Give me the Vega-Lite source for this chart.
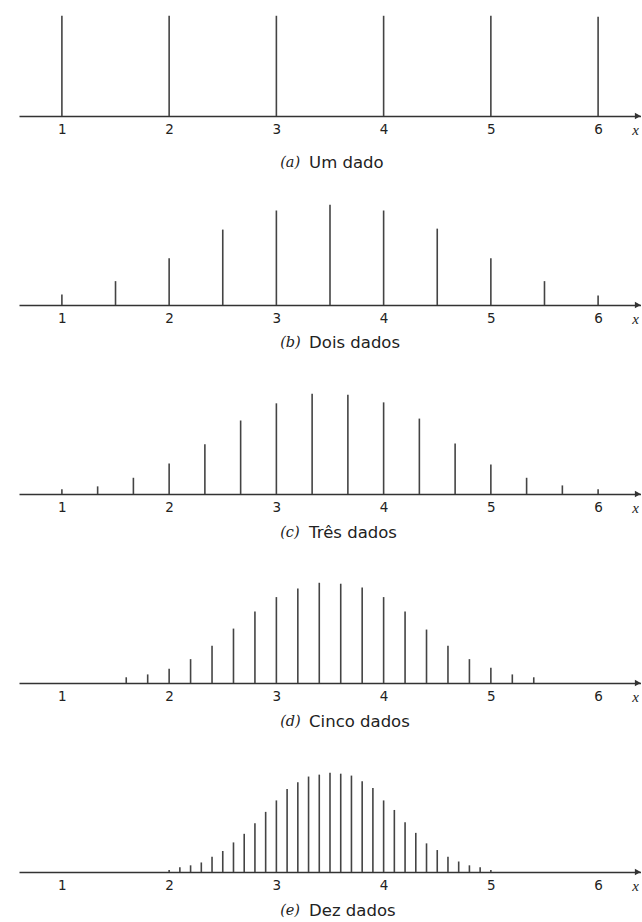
{
  "$schema": "https://vega.github.io/schema/vega-lite/v6.json",
  "background": "white",
  "padding": {"top": 11, "left": 19, "right": 0, "bottom": 0},
  "config": {
    "view": {"stroke": null},
    "axisX": {
      "domainColor": "#333333",
      "domainWidth": 1.5,
      "ticks": false,
      "grid": false,
      "labelFont": "DejaVu Sans",
      "labelFontSize": 13.5,
      "labelColor": "#222222",
      "labelBaseline": "middle",
      "labelPadding": 13,
      "labelOverlap": false,
      "labelFlush": false
    }
  },
  "datasets": {
    "medias": [
      {"painel": "a", "x": 1, "h": 105}, {"painel": "a", "x": 2, "h": 105}, {"painel": "a", "x": 3, "h": 105},
      {"painel": "a", "x": 4, "h": 105}, {"painel": "a", "x": 5, "h": 105}, {"painel": "a", "x": 6, "h": 104},

      {"painel": "b", "x": 1, "h": 11}, {"painel": "b", "x": 1.5, "h": 25}, {"painel": "b", "x": 2, "h": 49},
      {"painel": "b", "x": 2.5, "h": 79}, {"painel": "b", "x": 3, "h": 99}, {"painel": "b", "x": 3.5, "h": 105},
      {"painel": "b", "x": 4, "h": 99}, {"painel": "b", "x": 4.5, "h": 80}, {"painel": "b", "x": 5, "h": 49},
      {"painel": "b", "x": 5.5, "h": 25}, {"painel": "b", "x": 6, "h": 10},

      {"painel": "c", "x": 1, "h": 5}, {"painel": "c", "x": 1.3333, "h": 8}, {"painel": "c", "x": 1.6667, "h": 17},
      {"painel": "c", "x": 2, "h": 32}, {"painel": "c", "x": 2.3333, "h": 52}, {"painel": "c", "x": 2.6667, "h": 77},
      {"painel": "c", "x": 3, "h": 95}, {"painel": "c", "x": 3.3333, "h": 105}, {"painel": "c", "x": 3.6667, "h": 104},
      {"painel": "c", "x": 4, "h": 96}, {"painel": "c", "x": 4.3333, "h": 79}, {"painel": "c", "x": 4.6667, "h": 53},
      {"painel": "c", "x": 5, "h": 31}, {"painel": "c", "x": 5.3333, "h": 17}, {"painel": "c", "x": 5.6667, "h": 9},
      {"painel": "c", "x": 6, "h": 5},

      {"painel": "d", "x": 1.6, "h": 6}, {"painel": "d", "x": 1.8, "h": 9}, {"painel": "d", "x": 2.0, "h": 15},
      {"painel": "d", "x": 2.2, "h": 25}, {"painel": "d", "x": 2.4, "h": 39}, {"painel": "d", "x": 2.6, "h": 57},
      {"painel": "d", "x": 2.8, "h": 75}, {"painel": "d", "x": 3.0, "h": 90}, {"painel": "d", "x": 3.2, "h": 99},
      {"painel": "d", "x": 3.4, "h": 105}, {"painel": "d", "x": 3.6, "h": 104}, {"painel": "d", "x": 3.8, "h": 100},
      {"painel": "d", "x": 4.0, "h": 90}, {"painel": "d", "x": 4.2, "h": 75}, {"painel": "d", "x": 4.4, "h": 56},
      {"painel": "d", "x": 4.6, "h": 39}, {"painel": "d", "x": 4.8, "h": 25}, {"painel": "d", "x": 5.0, "h": 16},
      {"painel": "d", "x": 5.2, "h": 9}, {"painel": "d", "x": 5.4, "h": 6},

      {"painel": "e", "x": 2.0, "h": 2}, {"painel": "e", "x": 2.1, "h": 5}, {"painel": "e", "x": 2.2, "h": 7},
      {"painel": "e", "x": 2.3, "h": 10}, {"painel": "e", "x": 2.4, "h": 16}, {"painel": "e", "x": 2.5, "h": 22},
      {"painel": "e", "x": 2.6, "h": 31}, {"painel": "e", "x": 2.7, "h": 40}, {"painel": "e", "x": 2.8, "h": 51},
      {"painel": "e", "x": 2.9, "h": 63}, {"painel": "e", "x": 3.0, "h": 75}, {"painel": "e", "x": 3.1, "h": 87},
      {"painel": "e", "x": 3.2, "h": 94}, {"painel": "e", "x": 3.3, "h": 100}, {"painel": "e", "x": 3.4, "h": 102},
      {"painel": "e", "x": 3.5, "h": 104}, {"painel": "e", "x": 3.6, "h": 103}, {"painel": "e", "x": 3.7, "h": 101},
      {"painel": "e", "x": 3.8, "h": 95}, {"painel": "e", "x": 3.9, "h": 88}, {"painel": "e", "x": 4.0, "h": 75},
      {"painel": "e", "x": 4.1, "h": 65}, {"painel": "e", "x": 4.2, "h": 52}, {"painel": "e", "x": 4.3, "h": 41},
      {"painel": "e", "x": 4.4, "h": 30}, {"painel": "e", "x": 4.5, "h": 23}, {"painel": "e", "x": 4.6, "h": 16},
      {"painel": "e", "x": 4.7, "h": 11}, {"painel": "e", "x": 4.8, "h": 7}, {"painel": "e", "x": 4.9, "h": 5},
      {"painel": "e", "x": 5.0, "h": 2}
    ],
    "legendas": [
      {"painel": "a", "rotulo": "(a)", "nome": "Um dado"},
      {"painel": "b", "rotulo": "(b)", "nome": "Dois dados"},
      {"painel": "c", "rotulo": "(c)", "nome": "Três dados"},
      {"painel": "d", "rotulo": "(d)", "nome": "Cinco dados"},
      {"painel": "e", "rotulo": "(e)", "nome": "Dez dados"}
    ]
  },
  "bounds": "flush",
  "spacing": 84,
  "vconcat": [
    {
      "width": 622, "height": 105,
      "layer": [
        {"data": {"name": "medias"}, "transform": [{"filter": "datum.painel === 'a'"}],
         "mark": {"type": "rule", "strokeWidth": 1.6, "color": "#444444"},
         "encoding": {"x": {"field": "x", "type": "quantitative", "scale": {"domain": [0.6, 6.4], "nice": false, "zero": false}, "axis": {"title": null, "values": [1, 2, 3, 4, 5, 6], "format": "d"}},
                      "y": {"field": "h", "type": "quantitative", "scale": {"domain": [0, 105]}, "axis": null},
                      "y2": {"datum": 0}}},
        {"data": {"name": "legendas"}, "transform": [{"filter": "datum.painel === 'a'"}],
         "mark": {"type": "point", "shape": "triangle-right", "filled": true, "size": 45, "color": "#333333", "opacity": 1},
         "encoding": {"x": {"datum": 6.37, "type": "quantitative", "axis": {"title": null, "values": [1, 2, 3, 4, 5, 6], "format": "d"}}, "y": {"datum": 0, "type": "quantitative", "axis": null}}},
        {"data": {"name": "legendas"}, "transform": [{"filter": "datum.painel === 'a'"}],
         "mark": {"type": "text", "text": "x", "font": "Liberation Serif", "fontStyle": "italic", "fontSize": 15, "color": "#222222", "baseline": "middle", "align": "center", "dy": 14},
         "encoding": {"x": {"datum": 6.35, "type": "quantitative", "axis": {"title": null, "values": [1, 2, 3, 4, 5, 6], "format": "d"}}, "y": {"datum": 0, "type": "quantitative", "axis": null}}},
        {"data": {"name": "legendas"}, "transform": [{"filter": "datum.painel === 'a'"}],
         "mark": {"type": "text", "font": "DejaVu Serif", "fontStyle": "italic", "fontSize": 14.5, "color": "#222222", "baseline": "middle", "align": "left", "dy": 47},
         "encoding": {"x": {"datum": 3.035, "type": "quantitative", "axis": {"title": null, "values": [1, 2, 3, 4, 5, 6], "format": "d"}}, "y": {"datum": 0, "type": "quantitative", "axis": null}, "text": {"field": "rotulo"}}},
        {"data": {"name": "legendas"}, "transform": [{"filter": "datum.painel === 'a'"}],
         "mark": {"type": "text", "font": "DejaVu Sans", "fontSize": 16.5, "color": "#222222", "baseline": "middle", "align": "left", "dy": 47},
         "encoding": {"x": {"datum": 3.305, "type": "quantitative", "axis": {"title": null, "values": [1, 2, 3, 4, 5, 6], "format": "d"}}, "y": {"datum": 0, "type": "quantitative", "axis": null}, "text": {"field": "nome"}}}
      ]
    },
    {
      "width": 622, "height": 105,
      "layer": [
        {"data": {"name": "medias"}, "transform": [{"filter": "datum.painel === 'b'"}],
         "mark": {"type": "rule", "strokeWidth": 1.6, "color": "#444444"},
         "encoding": {"x": {"field": "x", "type": "quantitative", "scale": {"domain": [0.6, 6.4], "nice": false, "zero": false}, "axis": {"title": null, "values": [1, 2, 3, 4, 5, 6], "format": "d"}},
                      "y": {"field": "h", "type": "quantitative", "scale": {"domain": [0, 105]}, "axis": null},
                      "y2": {"datum": 0}}},
        {"data": {"name": "legendas"}, "transform": [{"filter": "datum.painel === 'b'"}],
         "mark": {"type": "point", "shape": "triangle-right", "filled": true, "size": 45, "color": "#333333", "opacity": 1},
         "encoding": {"x": {"datum": 6.37, "type": "quantitative", "axis": {"title": null, "values": [1, 2, 3, 4, 5, 6], "format": "d"}}, "y": {"datum": 0, "type": "quantitative", "axis": null}}},
        {"data": {"name": "legendas"}, "transform": [{"filter": "datum.painel === 'b'"}],
         "mark": {"type": "text", "text": "x", "font": "Liberation Serif", "fontStyle": "italic", "fontSize": 15, "color": "#222222", "baseline": "middle", "align": "center", "dy": 14},
         "encoding": {"x": {"datum": 6.35, "type": "quantitative", "axis": {"title": null, "values": [1, 2, 3, 4, 5, 6], "format": "d"}}, "y": {"datum": 0, "type": "quantitative", "axis": null}}},
        {"data": {"name": "legendas"}, "transform": [{"filter": "datum.painel === 'b'"}],
         "mark": {"type": "text", "font": "DejaVu Serif", "fontStyle": "italic", "fontSize": 14.5, "color": "#222222", "baseline": "middle", "align": "left", "dy": 38},
         "encoding": {"x": {"datum": 3.035, "type": "quantitative", "axis": {"title": null, "values": [1, 2, 3, 4, 5, 6], "format": "d"}}, "y": {"datum": 0, "type": "quantitative", "axis": null}, "text": {"field": "rotulo"}}},
        {"data": {"name": "legendas"}, "transform": [{"filter": "datum.painel === 'b'"}],
         "mark": {"type": "text", "font": "DejaVu Sans", "fontSize": 16.5, "color": "#222222", "baseline": "middle", "align": "left", "dy": 38},
         "encoding": {"x": {"datum": 3.305, "type": "quantitative", "axis": {"title": null, "values": [1, 2, 3, 4, 5, 6], "format": "d"}}, "y": {"datum": 0, "type": "quantitative", "axis": null}, "text": {"field": "nome"}}}
      ]
    },
    {
      "width": 622, "height": 105,
      "layer": [
        {"data": {"name": "medias"}, "transform": [{"filter": "datum.painel === 'c'"}],
         "mark": {"type": "rule", "strokeWidth": 1.6, "color": "#444444"},
         "encoding": {"x": {"field": "x", "type": "quantitative", "scale": {"domain": [0.6, 6.4], "nice": false, "zero": false}, "axis": {"title": null, "values": [1, 2, 3, 4, 5, 6], "format": "d"}},
                      "y": {"field": "h", "type": "quantitative", "scale": {"domain": [0, 105]}, "axis": null},
                      "y2": {"datum": 0}}},
        {"data": {"name": "legendas"}, "transform": [{"filter": "datum.painel === 'c'"}],
         "mark": {"type": "point", "shape": "triangle-right", "filled": true, "size": 45, "color": "#333333", "opacity": 1},
         "encoding": {"x": {"datum": 6.37, "type": "quantitative", "axis": {"title": null, "values": [1, 2, 3, 4, 5, 6], "format": "d"}}, "y": {"datum": 0, "type": "quantitative", "axis": null}}},
        {"data": {"name": "legendas"}, "transform": [{"filter": "datum.painel === 'c'"}],
         "mark": {"type": "text", "text": "x", "font": "Liberation Serif", "fontStyle": "italic", "fontSize": 15, "color": "#222222", "baseline": "middle", "align": "center", "dy": 14},
         "encoding": {"x": {"datum": 6.35, "type": "quantitative", "axis": {"title": null, "values": [1, 2, 3, 4, 5, 6], "format": "d"}}, "y": {"datum": 0, "type": "quantitative", "axis": null}}},
        {"data": {"name": "legendas"}, "transform": [{"filter": "datum.painel === 'c'"}],
         "mark": {"type": "text", "font": "DejaVu Serif", "fontStyle": "italic", "fontSize": 14.5, "color": "#222222", "baseline": "middle", "align": "left", "dy": 39},
         "encoding": {"x": {"datum": 3.035, "type": "quantitative", "axis": {"title": null, "values": [1, 2, 3, 4, 5, 6], "format": "d"}}, "y": {"datum": 0, "type": "quantitative", "axis": null}, "text": {"field": "rotulo"}}},
        {"data": {"name": "legendas"}, "transform": [{"filter": "datum.painel === 'c'"}],
         "mark": {"type": "text", "font": "DejaVu Sans", "fontSize": 16.5, "color": "#222222", "baseline": "middle", "align": "left", "dy": 39},
         "encoding": {"x": {"datum": 3.305, "type": "quantitative", "axis": {"title": null, "values": [1, 2, 3, 4, 5, 6], "format": "d"}}, "y": {"datum": 0, "type": "quantitative", "axis": null}, "text": {"field": "nome"}}}
      ]
    },
    {
      "width": 622, "height": 105,
      "layer": [
        {"data": {"name": "medias"}, "transform": [{"filter": "datum.painel === 'd'"}],
         "mark": {"type": "rule", "strokeWidth": 1.6, "color": "#444444"},
         "encoding": {"x": {"field": "x", "type": "quantitative", "scale": {"domain": [0.6, 6.4], "nice": false, "zero": false}, "axis": {"title": null, "values": [1, 2, 3, 4, 5, 6], "format": "d"}},
                      "y": {"field": "h", "type": "quantitative", "scale": {"domain": [0, 105]}, "axis": null},
                      "y2": {"datum": 0}}},
        {"data": {"name": "legendas"}, "transform": [{"filter": "datum.painel === 'd'"}],
         "mark": {"type": "point", "shape": "triangle-right", "filled": true, "size": 45, "color": "#333333", "opacity": 1},
         "encoding": {"x": {"datum": 6.37, "type": "quantitative", "axis": {"title": null, "values": [1, 2, 3, 4, 5, 6], "format": "d"}}, "y": {"datum": 0, "type": "quantitative", "axis": null}}},
        {"data": {"name": "legendas"}, "transform": [{"filter": "datum.painel === 'd'"}],
         "mark": {"type": "text", "text": "x", "font": "Liberation Serif", "fontStyle": "italic", "fontSize": 15, "color": "#222222", "baseline": "middle", "align": "center", "dy": 14},
         "encoding": {"x": {"datum": 6.35, "type": "quantitative", "axis": {"title": null, "values": [1, 2, 3, 4, 5, 6], "format": "d"}}, "y": {"datum": 0, "type": "quantitative", "axis": null}}},
        {"data": {"name": "legendas"}, "transform": [{"filter": "datum.painel === 'd'"}],
         "mark": {"type": "text", "font": "DejaVu Serif", "fontStyle": "italic", "fontSize": 14.5, "color": "#222222", "baseline": "middle", "align": "left", "dy": 39},
         "encoding": {"x": {"datum": 3.035, "type": "quantitative", "axis": {"title": null, "values": [1, 2, 3, 4, 5, 6], "format": "d"}}, "y": {"datum": 0, "type": "quantitative", "axis": null}, "text": {"field": "rotulo"}}},
        {"data": {"name": "legendas"}, "transform": [{"filter": "datum.painel === 'd'"}],
         "mark": {"type": "text", "font": "DejaVu Sans", "fontSize": 16.5, "color": "#222222", "baseline": "middle", "align": "left", "dy": 39},
         "encoding": {"x": {"datum": 3.305, "type": "quantitative", "axis": {"title": null, "values": [1, 2, 3, 4, 5, 6], "format": "d"}}, "y": {"datum": 0, "type": "quantitative", "axis": null}, "text": {"field": "nome"}}}
      ]
    },
    {
      "width": 622, "height": 105,
      "layer": [
        {"data": {"name": "medias"}, "transform": [{"filter": "datum.painel === 'e'"}],
         "mark": {"type": "rule", "strokeWidth": 1.6, "color": "#444444"},
         "encoding": {"x": {"field": "x", "type": "quantitative", "scale": {"domain": [0.6, 6.4], "nice": false, "zero": false}, "axis": {"title": null, "values": [1, 2, 3, 4, 5, 6], "format": "d"}},
                      "y": {"field": "h", "type": "quantitative", "scale": {"domain": [0, 105]}, "axis": null},
                      "y2": {"datum": 0}}},
        {"data": {"name": "legendas"}, "transform": [{"filter": "datum.painel === 'e'"}],
         "mark": {"type": "point", "shape": "triangle-right", "filled": true, "size": 45, "color": "#333333", "opacity": 1},
         "encoding": {"x": {"datum": 6.37, "type": "quantitative", "axis": {"title": null, "values": [1, 2, 3, 4, 5, 6], "format": "d"}}, "y": {"datum": 0, "type": "quantitative", "axis": null}}},
        {"data": {"name": "legendas"}, "transform": [{"filter": "datum.painel === 'e'"}],
         "mark": {"type": "text", "text": "x", "font": "Liberation Serif", "fontStyle": "italic", "fontSize": 15, "color": "#222222", "baseline": "middle", "align": "center", "dy": 14},
         "encoding": {"x": {"datum": 6.35, "type": "quantitative", "axis": {"title": null, "values": [1, 2, 3, 4, 5, 6], "format": "d"}}, "y": {"datum": 0, "type": "quantitative", "axis": null}}},
        {"data": {"name": "legendas"}, "transform": [{"filter": "datum.painel === 'e'"}],
         "mark": {"type": "text", "font": "DejaVu Serif", "fontStyle": "italic", "fontSize": 14.5, "color": "#222222", "baseline": "middle", "align": "left", "dy": 39},
         "encoding": {"x": {"datum": 3.035, "type": "quantitative", "axis": {"title": null, "values": [1, 2, 3, 4, 5, 6], "format": "d"}}, "y": {"datum": 0, "type": "quantitative", "axis": null}, "text": {"field": "rotulo"}}},
        {"data": {"name": "legendas"}, "transform": [{"filter": "datum.painel === 'e'"}],
         "mark": {"type": "text", "font": "DejaVu Sans", "fontSize": 16.5, "color": "#222222", "baseline": "middle", "align": "left", "dy": 39},
         "encoding": {"x": {"datum": 3.305, "type": "quantitative", "axis": {"title": null, "values": [1, 2, 3, 4, 5, 6], "format": "d"}}, "y": {"datum": 0, "type": "quantitative", "axis": null}, "text": {"field": "nome"}}}
      ]
    }
  ]
}
